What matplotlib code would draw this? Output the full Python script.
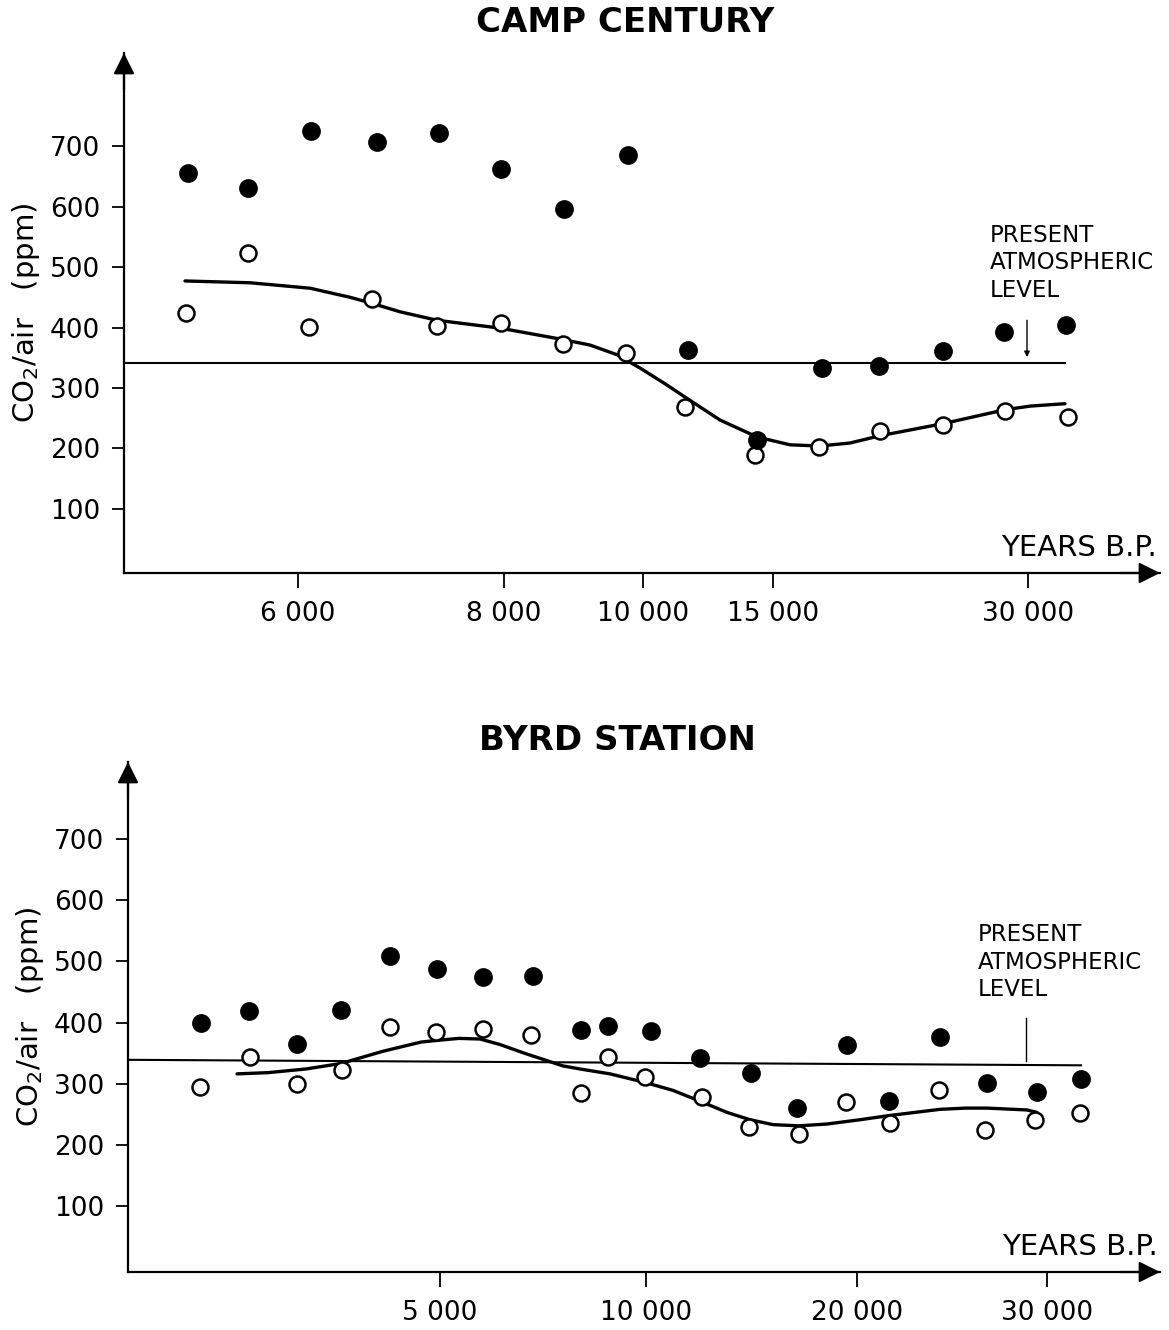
import matplotlib
matplotlib.use("Agg")
import matplotlib.pyplot as plt

plt.rcParams['font.family'] = ['DejaVu Sans']

# Camp Century -- positions along the (non-linear) age axis, CO2 in ppm
cc_pos = [188, 248, 311, 377, 439, 501, 564, 628, 688, 757, 822, 879, 943, 1004, 1066]
cc_filled = [655, 631, 725, 707, 721, 662, 596, 685, 363, 214, 333, 336, 361, 393, 404]
cc_open_pos = [186, 248, 309, 372, 437, 501, 563, 626, 685, 755, 819, 880, 943, 1005, 1068]
cc_open = [424, 523, 401, 447, 402, 407, 373, 358, 269, 189, 202, 229, 239, 262, 252]
cc_curve_pos = [185, 250, 310, 350, 372, 400, 437, 500, 560, 590, 617, 640, 665, 685, 720,
                757, 790, 820, 850, 880, 943, 1005, 1030, 1065]
cc_curve = [477, 474, 465, 450, 440, 426, 412, 399, 381, 371, 355, 333, 307, 285, 247,
            219, 206, 204, 209, 221, 241, 264, 270, 274]
cc_ticks = [298, 504, 643, 773, 1028]
cc_labels = ['6 000', '8 000', '10 000', '15 000', '30 000']
cc_present = 341

# Byrd Station
bs_pos = [201, 249, 297, 341, 390, 437, 483, 533, 581, 608, 651, 700, 751, 797, 847,
          889, 940, 987, 1037, 1081]
bs_filled = [400, 418, 365, 420, 508, 488, 475, 476, 388, 394, 386, 342, 317, 260, 363,
             271, 376, 301, 286, 307]
bs_open_pos = [200, 250, 297, 342, 390, 436, 483, 531, 581, 608, 645, 702, 749, 799, 846,
               890, 939, 985, 1035, 1080]
bs_open = [295, 343, 300, 323, 393, 384, 390, 379, 285, 343, 311, 278, 229, 217, 270,
           235, 289, 224, 240, 252]
bs_curve_pos = [237, 268, 306, 341, 383, 421, 445, 459, 480, 500, 524, 563, 580, 610, 645,
                673, 702, 727, 750, 773, 799, 827, 860, 890, 940, 965, 987, 1027, 1037]
bs_curve = [316, 318, 324, 333, 353, 368, 372, 374, 373, 364, 350, 329, 324, 316, 302,
            289, 270, 253, 241, 233, 231, 234, 241, 248, 258, 260, 260, 257, 253]
bs_ticks = [440, 646, 857, 1047]
bs_labels = ['5 000', '10 000', '20 000', '30 000']
bs_present = [339, 330]

W, H = 1169, 1330
fig = plt.figure(figsize=(W / 100, H / 100), dpi=100)


def make_axes(left, right, top, bottom, ylim):
    ax = fig.add_axes([left / W, 1 - bottom / H, (right - left) / W, (bottom - top) / H])
    ax.set_xlim(left, right)
    ax.set_ylim(*ylim)
    for s in ['top', 'right']:
        ax.spines[s].set_visible(False)
    for s in ['left', 'bottom']:
        ax.spines[s].set_linewidth(1.6)
    ax.tick_params(axis='y', direction='out', length=9, width=1.3, pad=8, labelsize=19)
    ax.tick_params(axis='x', direction='out', length=11, width=1.3, pad=9, labelsize=19)
    ax.set_yticks([100, 200, 300, 400, 500, 600, 700])
    # arrow heads on the axes
    ax.annotate('', xy=(right, ylim[0]), xytext=(right - 40, ylim[0]),
                arrowprops=dict(arrowstyle='-|>', color='black', lw=1.6,
                                mutation_scale=32, shrinkA=0, shrinkB=0),
                annotation_clip=False)
    ax.annotate('', xy=(left, ylim[1]), xytext=(left, ylim[1] - 60),
                arrowprops=dict(arrowstyle='-|>', color='black', lw=1.6,
                                mutation_scale=32, shrinkA=0, shrinkB=0),
                annotation_clip=False)
    ax.set_ylabel('CO$_2$/air   (ppm)', fontsize=21, labelpad=6)
    return ax


# ---- Camp Century ----
ax1 = make_axes(124, 1160, 53, 573, (-6, 854))
ax1.plot([124, 1065], [cc_present, cc_present], color='black', lw=1.5)
ax1.plot(cc_curve_pos, cc_curve, color='black', lw=2.4, solid_capstyle='round')
ax1.plot(cc_open_pos, cc_open, 'o', ms=11.5, mfc='white', mec='black', mew=1.8)
ax1.plot(cc_pos, cc_filled, 'o', ms=12.5, color='black')
ax1.set_xticks(cc_ticks)
ax1.set_xticklabels(cc_labels)
ax1.text(990, 572, 'PRESENT\nATMOSPHERIC\nLEVEL', fontsize=16.5, va='top', ha='left',
         linespacing=1.25)
ax1.annotate('', xy=(1027, 351), xytext=(1027, 412),
             arrowprops=dict(arrowstyle='-|>', color='black', lw=1.0,
                             mutation_scale=8, shrinkA=0, shrinkB=0))
ax1.text(1157, 36, 'YEARS B.P.', fontsize=21, ha='right', va='center')
fig.text(625 / W, 1 - 22 / H, 'CAMP CENTURY', fontsize=24.5, fontweight='bold',
         ha='center', va='center')

# ---- Byrd Station ----
ax2 = make_axes(128, 1160, 762, 1272, (-8, 826))
ax2.plot([128, 1081], bs_present, color='black', lw=1.5)
ax2.plot(bs_curve_pos, bs_curve, color='black', lw=2.4, solid_capstyle='round')
ax2.plot(bs_open_pos, bs_open, 'o', ms=11.5, mfc='white', mec='black', mew=1.8)
ax2.plot(bs_pos, bs_filled, 'o', ms=12.5, color='black')
ax2.set_xticks(bs_ticks)
ax2.set_xticklabels(bs_labels)
ax2.text(978, 562, 'PRESENT\nATMOSPHERIC\nLEVEL', fontsize=16.5, va='top', ha='left',
         linespacing=1.25)
ax2.plot([1026, 1026], [407, 337], color='black', lw=1.0)
ax2.text(1158, 33, 'YEARS B.P.', fontsize=21, ha='right', va='center')
fig.text(617 / W, 1 - 741 / H, 'BYRD STATION', fontsize=24.5, fontweight='bold',
         ha='center', va='center')

fig.savefig('out.png', dpi=100)
